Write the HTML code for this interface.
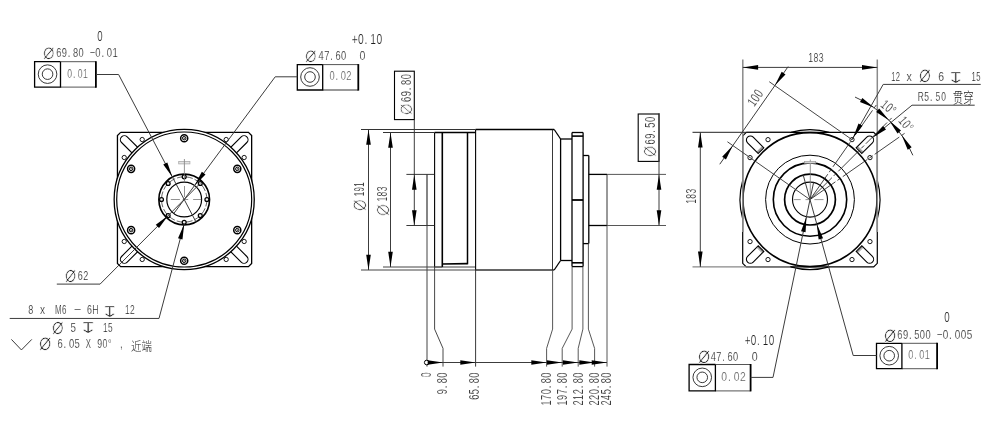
<!DOCTYPE html>
<html lang="zh"><head><meta charset="utf-8"><title>drawing</title>
<style>
html,body{margin:0;padding:0;background:#fff;}
body{width:985px;height:434px;overflow:hidden;}
svg{display:block;will-change:transform;}
svg text{font-family:"Liberation Sans","Noto Sans CJK SC",sans-serif;}
</style></head><body>
<svg width="985" height="434" viewBox="0 0 985 434">
<rect width="985" height="434" fill="#fff"/>
<polyline points="120.65,132.40 248.45,132.40 251.65,135.60 251.65,263.40 248.45,266.60 120.65,266.60 117.45,263.40 117.45,135.60 120.65,132.40" fill="none" stroke="#000" stroke-width="1.3" stroke-linejoin="miter"/>
<path d="M229.45,159.90 L246.85,142.51 A4.0,4.0 0 0 0 241.19,136.85 L223.80,154.25" fill="none" stroke="#000" stroke-width="1.1" />
<circle cx="244.16" cy="157.51" r="2.15" fill="none" stroke="#000" stroke-width="0.9" />
<circle cx="226.19" cy="139.54" r="2.15" fill="none" stroke="#000" stroke-width="0.9" />
<path d="M144.60,154.25 L127.21,136.85 A4.0,4.0 0 0 0 121.55,142.51 L138.95,159.90" fill="none" stroke="#000" stroke-width="1.1" />
<circle cx="142.21" cy="139.54" r="2.15" fill="none" stroke="#000" stroke-width="0.9" />
<circle cx="124.24" cy="157.51" r="2.15" fill="none" stroke="#000" stroke-width="0.9" />
<path d="M138.95,239.10 L121.55,256.49 A4.0,4.0 0 0 0 127.21,262.15 L144.60,244.75" fill="none" stroke="#000" stroke-width="1.1" />
<circle cx="124.24" cy="241.49" r="2.15" fill="none" stroke="#000" stroke-width="0.9" />
<circle cx="142.21" cy="259.46" r="2.15" fill="none" stroke="#000" stroke-width="0.9" />
<path d="M223.80,244.75 L241.19,262.15 A4.0,4.0 0 0 0 246.85,256.49 L229.45,239.10" fill="none" stroke="#000" stroke-width="1.1" />
<circle cx="226.19" cy="259.46" r="2.15" fill="none" stroke="#000" stroke-width="0.9" />
<circle cx="244.16" cy="241.49" r="2.15" fill="none" stroke="#000" stroke-width="0.9" />
<circle cx="184.20" cy="199.50" r="70.05" fill="#fff" stroke="#000" stroke-width="1.3" />
<circle cx="184.20" cy="199.50" r="67.50" fill="none" stroke="#000" stroke-width="1.2" />
<circle cx="184.20" cy="138.20" r="3.55" fill="none" stroke="#000" stroke-width="1.5" />
<circle cx="184.20" cy="138.20" r="1.75" fill="none" stroke="#000" stroke-width="1.0" />
<circle cx="184.20" cy="138.20" r="0.40" fill="#000" stroke="#000" stroke-width="0.5" />
<circle cx="131.11" cy="168.85" r="3.55" fill="none" stroke="#000" stroke-width="1.5" />
<circle cx="131.11" cy="168.85" r="1.75" fill="none" stroke="#000" stroke-width="1.0" />
<circle cx="131.11" cy="168.85" r="0.40" fill="#000" stroke="#000" stroke-width="0.5" />
<circle cx="131.11" cy="230.15" r="3.55" fill="none" stroke="#000" stroke-width="1.5" />
<circle cx="131.11" cy="230.15" r="1.75" fill="none" stroke="#000" stroke-width="1.0" />
<circle cx="131.11" cy="230.15" r="0.40" fill="#000" stroke="#000" stroke-width="0.5" />
<circle cx="184.20" cy="260.80" r="3.55" fill="none" stroke="#000" stroke-width="1.5" />
<circle cx="184.20" cy="260.80" r="1.75" fill="none" stroke="#000" stroke-width="1.0" />
<circle cx="184.20" cy="260.80" r="0.40" fill="#000" stroke="#000" stroke-width="0.5" />
<circle cx="237.29" cy="230.15" r="3.55" fill="none" stroke="#000" stroke-width="1.5" />
<circle cx="237.29" cy="230.15" r="1.75" fill="none" stroke="#000" stroke-width="1.0" />
<circle cx="237.29" cy="230.15" r="0.40" fill="#000" stroke="#000" stroke-width="0.5" />
<circle cx="237.29" cy="168.85" r="3.55" fill="none" stroke="#000" stroke-width="1.5" />
<circle cx="237.29" cy="168.85" r="1.75" fill="none" stroke="#000" stroke-width="1.0" />
<circle cx="237.29" cy="168.85" r="0.40" fill="#000" stroke="#000" stroke-width="0.5" />
<circle cx="184.20" cy="199.50" r="25.35" fill="none" stroke="#000" stroke-width="1.6" />
<circle cx="184.20" cy="199.50" r="22.70" fill="none" stroke="#222" stroke-width="0.7" stroke-dasharray="7 2"/>
<circle cx="184.20" cy="199.50" r="17.40" fill="none" stroke="#000" stroke-width="1.2" />
<circle cx="184.20" cy="176.80" r="1.95" fill="#eee" stroke="#000" stroke-width="1.25" />
<circle cx="168.15" cy="183.45" r="1.95" fill="#eee" stroke="#000" stroke-width="1.25" />
<circle cx="161.50" cy="199.50" r="1.95" fill="#eee" stroke="#000" stroke-width="1.25" />
<circle cx="168.15" cy="215.55" r="1.95" fill="#eee" stroke="#000" stroke-width="1.25" />
<circle cx="184.20" cy="222.20" r="1.95" fill="#eee" stroke="#000" stroke-width="1.25" />
<circle cx="200.25" cy="215.55" r="1.95" fill="#eee" stroke="#000" stroke-width="1.25" />
<circle cx="206.90" cy="199.50" r="1.95" fill="#eee" stroke="#000" stroke-width="1.25" />
<circle cx="200.25" cy="183.45" r="1.95" fill="#eee" stroke="#000" stroke-width="1.25" />
<line x1="170.80" y1="199.50" x2="179.90" y2="199.50" stroke="#777" stroke-width="0.8" />
<line x1="193.10" y1="199.50" x2="201.20" y2="199.50" stroke="#777" stroke-width="0.8" />
<line x1="182.70" y1="199.50" x2="188.20" y2="199.50" stroke="#777" stroke-width="0.8" />
<line x1="184.50" y1="186.00" x2="184.50" y2="197.00" stroke="#777" stroke-width="0.8" />
<line x1="184.50" y1="174.50" x2="184.50" y2="181.50" stroke="#777" stroke-width="0.8" />
<rect x="178.70" y="161.4" width="11.2" height="2.5" fill="#e4e4e4" stroke="#aaa" stroke-width="0.8"/>
<line x1="184.40" y1="159.00" x2="184.40" y2="174.00" stroke="#888" stroke-width="0.9" />
<line x1="60.50" y1="61.70" x2="95.90" y2="61.70" stroke="#555" stroke-width="1.0" />
<line x1="60.50" y1="87.20" x2="95.90" y2="87.20" stroke="#777" stroke-width="1.3" />
<line x1="95.90" y1="61.20" x2="95.90" y2="87.80" stroke="#000" stroke-width="1.8" />
<polyline points="60.50,61.70 34.60,61.70 34.60,87.20 60.50,87.20 60.50,61.70" fill="none" stroke="#000" stroke-width="1.3" />
<circle cx="47.55" cy="74.15" r="9.30" fill="none" stroke="#222" stroke-width="0.9" />
<circle cx="47.55" cy="74.15" r="5.30" fill="none" stroke="#222" stroke-width="0.9" />
<text transform="translate(67.60 77.50) scale(0.655 1)" x="-0.51 8.15 15.44 23.41" font-size="13.18" fill="#555" stroke="#fff" stroke-width="0.22">0.01</text>
<text transform="translate(43.30 59.00) scale(0.8368 1)" x="-0.83" y="-0.40" font-size="22.96" fill="#111" stroke="#fff" stroke-width="0.75" font-family='"DejaVu Sans", "Liberation Sans", sans-serif'>⌀</text>
<text transform="translate(56.50 56.50) scale(0.736 1)" x="-0.49 7.14 15.33 22.39 30.02" font-size="12.61" fill="#1c1c1c" stroke="#fff" stroke-width="0.22">69.80</text>
<text transform="translate(90.00 56.70) scale(0.717 1)" x="-0.51 7.46 16.00 23.41 31.39" font-size="13.18" fill="#1c1c1c" stroke="#fff" stroke-width="0.22">−0.01</text>
<text transform="translate(97.60 40.70) scale(0.700 1)" x="-0.54" font-size="13.75" fill="#1c1c1c" stroke="#fff" stroke-width="0.22">0</text>
<polyline points="96.10,74.50 118.60,74.50" fill="none" stroke="#3c3c3c" stroke-width="1.0" />
<line x1="118.60" y1="74.50" x2="196.00" y2="221.99" stroke="#3c3c3c" stroke-width="1.0" />
<polygon points="172.40,177.01 163.25,164.53 167.32,162.39" fill="#000"/>
<line x1="322.70" y1="64.60" x2="358.30" y2="64.60" stroke="#555" stroke-width="1.0" />
<line x1="322.70" y1="90.00" x2="358.30" y2="90.00" stroke="#777" stroke-width="1.3" />
<line x1="358.30" y1="64.10" x2="358.30" y2="90.60" stroke="#000" stroke-width="1.8" />
<polyline points="322.70,64.60 297.30,64.60 297.30,90.00 322.70,90.00 322.70,64.60" fill="none" stroke="#000" stroke-width="1.3" />
<circle cx="310.00" cy="77.00" r="9.30" fill="none" stroke="#222" stroke-width="0.9" />
<circle cx="310.00" cy="77.00" r="5.30" fill="none" stroke="#222" stroke-width="0.9" />
<text transform="translate(329.80 80.30) scale(0.708 1)" x="-0.51 8.04 15.44 23.41" font-size="13.18" fill="#555" stroke="#fff" stroke-width="0.22">0.02</text>
<text transform="translate(305.70 62.10) scale(0.8368 1)" x="-0.83" y="-0.40" font-size="22.96" fill="#111" stroke="#fff" stroke-width="0.75" font-family='"DejaVu Sans", "Liberation Sans", sans-serif'>⌀</text>
<text transform="translate(318.90 59.50) scale(0.712 1)" x="-0.51 7.38 15.85 23.16 31.04" font-size="13.04" fill="#1c1c1c" stroke="#fff" stroke-width="0.22">47.60</text>
<text transform="translate(352.10 43.80) scale(0.748 1)" x="-0.54 7.79 16.59 24.43 32.75" font-size="13.75" fill="#1c1c1c" stroke="#fff" stroke-width="0.22">+0.10</text>
<text transform="translate(360.00 59.50) scale(0.801 1)" x="-0.52" font-size="13.32" fill="#1c1c1c" stroke="#fff" stroke-width="0.22">0</text>
<polyline points="297.30,76.80 275.20,76.80" fill="none" stroke="#3c3c3c" stroke-width="1.0" />
<line x1="275.20" y1="76.80" x2="173.83" y2="213.48" stroke="#3c3c3c" stroke-width="1.0" />
<polygon points="194.57,185.52 201.83,171.86 205.53,174.61" fill="#000"/>
<text transform="translate(65.20 282.30) scale(0.7724 1)" x="-0.86" y="-0.42" font-size="23.91" fill="#111" stroke="#fff" stroke-width="0.75" font-family='"DejaVu Sans", "Liberation Sans", sans-serif'>⌀</text>
<text transform="translate(78.10 279.50) scale(0.686 1)" x="-0.51 7.46" font-size="13.18" fill="#1c1c1c" stroke="#fff" stroke-width="0.22">62</text>
<polyline points="56.80,284.10 100.10,284.10" fill="none" stroke="#3c3c3c" stroke-width="1.0" />
<line x1="100.10" y1="284.10" x2="200.20" y2="183.40" stroke="#3c3c3c" stroke-width="1.0" />
<polygon points="168.20,215.60 159.04,228.07 155.78,224.83" fill="#000"/>
<text transform="translate(28.51 314.40) scale(0.709 1)" x="-0.50" font-size="12.75" fill="#1c1c1c" stroke="#fff" stroke-width="0.22">8</text>
<text transform="translate(40.08 314.40) scale(0.794 1)" x="-0.14" font-size="12.75" fill="#1c1c1c" stroke="#fff" stroke-width="0.22">x</text>
<text transform="translate(56.15 314.40) scale(0.626 1)" x="-1.65 9.37" font-size="12.75" fill="#1c1c1c" stroke="#fff" stroke-width="0.22">M6</text>
<text transform="translate(74.29 314.40) scale(1.020 1)" x="-0.50" font-size="12.75" fill="#1c1c1c" stroke="#fff" stroke-width="0.22">−</text>
<text transform="translate(87.25 314.40) scale(0.692 1)" x="-0.24 7.06" font-size="12.75" fill="#1c1c1c" stroke="#fff" stroke-width="0.22">6H</text>
<text transform="translate(105.04 317.46) scale(1.5553 1)" x="-3.10" y="-0.05" font-size="15.10" fill="#1c1c1c" stroke="#fff" stroke-width="0.45" font-family='"DejaVu Sans", "Liberation Sans", sans-serif'>↧</text>
<text transform="translate(125.26 314.40) scale(0.663 1)" x="-0.50 7.22" font-size="12.75" fill="#1c1c1c" stroke="#fff" stroke-width="0.22">12</text>
<polyline points="9.70,318.45 159.00,318.45" fill="none" stroke="#3c3c3c" stroke-width="1.0" />
<line x1="159.00" y1="318.45" x2="184.20" y2="224.00" stroke="#3c3c3c" stroke-width="1.0" />
<polygon points="184.20,224.00 182.48,239.38 178.03,238.19" fill="#000"/>
<text transform="translate(52.35 334.05) scale(0.8116 1)" x="-0.87" y="-0.42" font-size="24.07" fill="#111" stroke="#fff" stroke-width="0.75" font-family='"DejaVu Sans", "Liberation Sans", sans-serif'>⌀</text>
<text transform="translate(70.84 331.70) scale(0.765 1)" x="-0.50" font-size="12.75" fill="#1c1c1c" stroke="#fff" stroke-width="0.22">5</text>
<text transform="translate(82.93 333.36) scale(1.6090 1)" x="-3.10" y="-0.05" font-size="15.10" fill="#1c1c1c" stroke="#fff" stroke-width="0.45" font-family='"DejaVu Sans", "Liberation Sans", sans-serif'>↧</text>
<text transform="translate(103.32 331.70) scale(0.651 1)" x="-0.50 7.22" font-size="12.75" fill="#1c1c1c" stroke="#fff" stroke-width="0.22">15</text>
<polyline points="11.40,339.40 21.42,349.94 31.79,339.40" fill="none" stroke="#222" stroke-width="0.9" />
<text transform="translate(39.39 350.63) scale(0.8165 1)" x="-0.89" y="-0.43" font-size="24.72" fill="#111" stroke="#fff" stroke-width="0.75" font-family='"DejaVu Sans", "Liberation Sans", sans-serif'>⌀</text>
<text transform="translate(57.88 347.70) scale(0.739 1)" x="-0.50 7.77 14.93 22.65" font-size="12.75" fill="#1c1c1c" stroke="#fff" stroke-width="0.22">6.05</text>
<text transform="translate(85.87 347.70) scale(0.608 1)" x="-0.29" font-size="12.75" fill="#1c1c1c" stroke="#fff" stroke-width="0.22">X</text>
<text transform="translate(97.62 347.70) scale(0.682 1)" x="-0.50 7.22 15.11" font-size="12.75" fill="#1c1c1c" stroke="#fff" stroke-width="0.22">90°</text>
<text transform="translate(120.01 348.30) scale(0.771 1)" x="0.02" font-size="12.75" fill="#1c1c1c" stroke="#fff" stroke-width="0.22">,</text>
<text transform="translate(130.96 350.63) scale(0.86 1)" font-size="12.2" font-weight="300" fill="#222" font-family='"Liberation Sans", "Noto Sans CJK SC", sans-serif'>近端</text>
<line x1="427.00" y1="174.40" x2="427.00" y2="225.50" stroke="#333" stroke-width="1.2" />
<line x1="434.60" y1="132.50" x2="434.60" y2="267.00" stroke="#000" stroke-width="1.1" />
<line x1="434.60" y1="132.50" x2="475.60" y2="132.50" stroke="#000" stroke-width="1.3" />
<line x1="434.60" y1="267.00" x2="475.60" y2="267.00" stroke="#444" stroke-width="1.2" />
<line x1="442.30" y1="132.50" x2="442.30" y2="267.00" stroke="#000" stroke-width="1.6" />
<line x1="467.50" y1="132.50" x2="467.50" y2="264.30" stroke="#000" stroke-width="1.5" />
<line x1="442.30" y1="264.00" x2="467.50" y2="263.60" stroke="#000" stroke-width="1.7" />
<line x1="475.60" y1="129.50" x2="475.60" y2="270.00" stroke="#000" stroke-width="1.1" />
<line x1="475.60" y1="129.50" x2="554.20" y2="129.50" stroke="#000" stroke-width="1.3" />
<line x1="475.60" y1="270.00" x2="554.20" y2="270.00" stroke="#333" stroke-width="1.3" />
<line x1="552.50" y1="129.50" x2="552.50" y2="270.00" stroke="#222" stroke-width="0.9" />
<line x1="554.20" y1="129.50" x2="560.60" y2="139.00" stroke="#000" stroke-width="1.3" />
<line x1="554.20" y1="270.00" x2="560.60" y2="260.50" stroke="#000" stroke-width="1.3" />
<line x1="560.60" y1="139.00" x2="560.60" y2="260.50" stroke="#000" stroke-width="1.3" />
<line x1="560.60" y1="139.00" x2="572.00" y2="139.00" stroke="#000" stroke-width="1.3" />
<line x1="560.60" y1="260.50" x2="572.00" y2="260.50" stroke="#000" stroke-width="1.3" />
<line x1="572.00" y1="132.50" x2="572.00" y2="266.60" stroke="#000" stroke-width="1.3" />
<line x1="583.10" y1="132.50" x2="583.10" y2="266.60" stroke="#000" stroke-width="1.3" />
<line x1="572.00" y1="132.50" x2="583.10" y2="132.50" stroke="#000" stroke-width="1.3" />
<line x1="572.00" y1="266.60" x2="583.10" y2="266.60" stroke="#000" stroke-width="1.3" />
<line x1="572.00" y1="136.10" x2="583.10" y2="136.10" stroke="#000" stroke-width="1.6" />
<line x1="572.00" y1="262.80" x2="583.10" y2="262.80" stroke="#000" stroke-width="1.6" />
<line x1="572.00" y1="200.00" x2="583.10" y2="200.00" stroke="#000" stroke-width="1.8" />
<line x1="583.10" y1="155.50" x2="588.80" y2="155.50" stroke="#000" stroke-width="1.3" />
<line x1="583.10" y1="243.60" x2="588.80" y2="243.60" stroke="#000" stroke-width="1.3" />
<line x1="588.80" y1="155.50" x2="588.80" y2="243.60" stroke="#000" stroke-width="1.3" />
<line x1="588.80" y1="174.40" x2="607.00" y2="174.40" stroke="#000" stroke-width="1.3" />
<line x1="588.80" y1="225.50" x2="607.00" y2="225.50" stroke="#000" stroke-width="1.3" />
<line x1="607.00" y1="174.40" x2="607.00" y2="225.50" stroke="#333" stroke-width="1.0" />
<line x1="607.00" y1="174.40" x2="666.00" y2="174.40" stroke="#444" stroke-width="0.9" />
<line x1="607.00" y1="225.50" x2="666.00" y2="225.50" stroke="#444" stroke-width="0.9" />
<rect x="638.2" y="114.0" width="20.8" height="47.4" fill="none" stroke="#000" stroke-width="1.1"/>
<line x1="659.00" y1="113.00" x2="659.00" y2="225.50" stroke="#3c3c3c" stroke-width="1.0" />
<polygon points="659.00,174.40 661.30,189.70 656.70,189.70" fill="#000"/>
<polygon points="659.00,225.50 656.70,210.20 661.30,210.20" fill="#000"/>
<rect x="394.5" y="71.2" width="19.8" height="48.4" fill="none" stroke="#000" stroke-width="1.1"/>
<line x1="414.30" y1="119.60" x2="414.30" y2="225.50" stroke="#3c3c3c" stroke-width="1.0" />
<polygon points="414.30,174.40 416.60,189.70 412.00,189.70" fill="#000"/>
<polygon points="414.30,225.50 412.00,210.20 416.60,210.20" fill="#000"/>
<line x1="406.40" y1="174.40" x2="434.60" y2="174.40" stroke="#222" stroke-width="0.9" />
<line x1="406.40" y1="225.50" x2="434.60" y2="225.50" stroke="#222" stroke-width="0.9" />
<line x1="361.00" y1="129.50" x2="475.60" y2="129.50" stroke="#333" stroke-width="1.0" />
<line x1="361.00" y1="270.00" x2="475.60" y2="270.00" stroke="#444" stroke-width="1.0" />
<line x1="368.50" y1="129.50" x2="368.50" y2="270.00" stroke="#3c3c3c" stroke-width="1.0" />
<polygon points="368.50,129.50 370.80,144.80 366.20,144.80" fill="#000"/>
<polygon points="368.50,270.00 366.20,254.70 370.80,254.70" fill="#000"/>
<text transform="translate(364.30 196.00) rotate(-90) scale(0.575 1)" x="-0.54 7.87 16.27" font-size="13.90" fill="#1c1c1c" stroke="#fff" stroke-width="0.22">191</text>
<line x1="383.00" y1="132.50" x2="434.60" y2="132.50" stroke="#333" stroke-width="1.0" />
<line x1="383.00" y1="267.00" x2="442.30" y2="267.00" stroke="#444" stroke-width="1.0" />
<line x1="390.50" y1="132.50" x2="390.50" y2="267.00" stroke="#3c3c3c" stroke-width="1.0" />
<polygon points="390.50,132.50 392.80,147.80 388.20,147.80" fill="#000"/>
<polygon points="390.50,267.00 388.20,251.70 392.80,251.70" fill="#000"/>
<text transform="translate(386.60 201.20) rotate(-90) scale(0.620 1)" x="-0.54 7.79 16.11" font-size="13.75" fill="#1c1c1c" stroke="#fff" stroke-width="0.22">183</text>
<text transform="translate(366.80 209.90) rotate(-90) scale(0.7734 1)" x="-0.90" y="-0.44" font-size="24.85" fill="#1c1c1c" stroke="#fff" stroke-width="0.9" font-family='"DejaVu Sans", "Liberation Sans", sans-serif'>⌀</text>
<text transform="translate(389.20 215.30) rotate(-90) scale(0.8275 1)" x="-0.86" y="-0.42" font-size="23.91" fill="#1c1c1c" stroke="#fff" stroke-width="0.9" font-family='"DejaVu Sans", "Liberation Sans", sans-serif'>⌀</text>
<line x1="427.00" y1="225.50" x2="427.00" y2="366.60" stroke="#444" stroke-width="1.0" />
<polyline points="434.60,267.00 434.60,329.10 443.00,348.40 443.00,366.60" fill="none" stroke="#333" stroke-width="0.9" />
<line x1="475.60" y1="270.00" x2="475.60" y2="366.60" stroke="#222" stroke-width="0.9" />
<polyline points="552.60,270.00 552.60,329.10 546.60,348.40 546.60,366.60" fill="none" stroke="#444" stroke-width="0.9" />
<polyline points="572.10,266.60 572.10,329.10 562.20,348.40 562.20,366.60" fill="none" stroke="#444" stroke-width="0.9" />
<polyline points="582.90,266.60 582.90,329.10 578.20,348.40 578.20,366.60" fill="none" stroke="#444" stroke-width="0.9" />
<polyline points="588.40,243.60 588.40,329.10 594.60,348.40 594.60,366.60" fill="none" stroke="#444" stroke-width="0.9" />
<line x1="607.00" y1="225.50" x2="607.00" y2="366.60" stroke="#444" stroke-width="0.9" />
<line x1="427.00" y1="362.50" x2="607.00" y2="362.50" stroke="#3c3c3c" stroke-width="1.0" />
<circle cx="426.70" cy="362.50" r="2.30" fill="#fff" stroke="#000" stroke-width="1.0" />
<polygon points="443.00,362.50 427.70,364.80 427.70,360.20" fill="#000"/>
<polygon points="475.60,362.50 460.30,364.80 460.30,360.20" fill="#000"/>
<polygon points="546.60,362.50 531.30,364.80 531.30,360.20" fill="#000"/>
<polygon points="562.20,362.50 546.90,364.80 546.90,360.20" fill="#000"/>
<polygon points="578.20,362.50 562.90,364.80 562.90,360.20" fill="#000"/>
<polygon points="594.60,362.50 579.30,364.80 579.30,360.20" fill="#000"/>
<polygon points="607.00,362.50 591.70,364.80 591.70,360.20" fill="#000"/>
<text transform="translate(430.90 377.00) rotate(-90) scale(0.599 1)" x="-0.56" font-size="14.33" fill="#1c1c1c" stroke="#fff" stroke-width="0.22">0</text>
<text transform="translate(447.20 393.90) rotate(-90) scale(0.615 1)" x="-0.58 9.12 17.45 26.46" font-size="14.90" fill="#1c1c1c" stroke="#fff" stroke-width="0.22">9.80</text>
<text transform="translate(479.20 399.50) rotate(-90) scale(0.616 1)" x="-0.58 8.43 18.13 26.46 35.48" font-size="14.90" fill="#1c1c1c" stroke="#fff" stroke-width="0.22">65.80</text>
<text transform="translate(550.60 405.10) rotate(-90) scale(0.605 1)" x="-0.59 8.60 17.79 27.67 36.16 45.35" font-size="15.19" fill="#1c1c1c" stroke="#fff" stroke-width="0.22">170.80</text>
<text transform="translate(566.50 405.10) rotate(-90) scale(0.605 1)" x="-0.59 8.60 17.79 27.67 36.16 45.35" font-size="15.19" fill="#1c1c1c" stroke="#fff" stroke-width="0.22">197.80</text>
<text transform="translate(582.80 405.10) rotate(-90) scale(0.605 1)" x="-0.59 8.60 17.79 27.67 36.16 45.35" font-size="15.19" fill="#1c1c1c" stroke="#fff" stroke-width="0.22">212.80</text>
<text transform="translate(598.50 405.10) rotate(-90) scale(0.605 1)" x="-0.59 8.60 17.79 27.67 36.16 45.35" font-size="15.19" fill="#1c1c1c" stroke="#fff" stroke-width="0.22">220.80</text>
<text transform="translate(611.20 405.10) rotate(-90) scale(0.635 1)" x="-0.56 8.19 16.95 26.36 34.46 43.21" font-size="14.47" fill="#1c1c1c" stroke="#fff" stroke-width="0.22">245.80</text>
<polyline points="746.30,132.30 873.70,132.30 877.30,135.90 877.30,263.30 873.70,266.90 746.30,266.90 742.70,263.30 742.70,135.90 746.30,132.30" fill="none" stroke="#000" stroke-width="1.2" stroke-linejoin="miter"/>
<path d="M861.83,153.43 L872.44,142.82 A4.0,4.0 0 0 0 866.78,137.16 L856.17,147.77 Z" fill="none" stroke="#000" stroke-width="1.1" />
<line x1="862.54" y1="152.72" x2="856.88" y2="147.06" stroke="#333" stroke-width="0.6" />
<line x1="863.25" y1="152.01" x2="857.59" y2="146.35" stroke="#333" stroke-width="0.6" />
<circle cx="869.96" cy="157.61" r="2.15" fill="none" stroke="#000" stroke-width="0.9" />
<circle cx="851.99" cy="139.64" r="2.15" fill="none" stroke="#000" stroke-width="0.9" />
<path d="M763.83,147.77 L753.22,137.16 A4.0,4.0 0 0 0 747.56,142.82 L758.17,153.43 Z" fill="none" stroke="#000" stroke-width="1.1" />
<line x1="763.12" y1="147.06" x2="757.46" y2="152.72" stroke="#333" stroke-width="0.6" />
<line x1="762.41" y1="146.35" x2="756.75" y2="152.01" stroke="#333" stroke-width="0.6" />
<circle cx="768.01" cy="139.64" r="2.15" fill="none" stroke="#000" stroke-width="0.9" />
<circle cx="750.04" cy="157.61" r="2.15" fill="none" stroke="#000" stroke-width="0.9" />
<path d="M758.17,245.77 L747.56,256.38 A4.0,4.0 0 0 0 753.22,262.04 L763.83,251.43 Z" fill="none" stroke="#000" stroke-width="1.1" />
<line x1="757.46" y1="246.48" x2="763.12" y2="252.14" stroke="#333" stroke-width="0.6" />
<line x1="756.75" y1="247.19" x2="762.41" y2="252.85" stroke="#333" stroke-width="0.6" />
<circle cx="750.04" cy="241.59" r="2.15" fill="none" stroke="#000" stroke-width="0.9" />
<circle cx="768.01" cy="259.56" r="2.15" fill="none" stroke="#000" stroke-width="0.9" />
<path d="M856.17,251.43 L866.78,262.04 A4.0,4.0 0 0 0 872.44,256.38 L861.83,245.77 Z" fill="none" stroke="#000" stroke-width="1.1" />
<line x1="856.88" y1="252.14" x2="862.54" y2="246.48" stroke="#333" stroke-width="0.6" />
<line x1="857.59" y1="252.85" x2="863.25" y2="247.19" stroke="#333" stroke-width="0.6" />
<circle cx="851.99" cy="259.56" r="2.15" fill="none" stroke="#000" stroke-width="0.9" />
<circle cx="869.96" cy="241.59" r="2.15" fill="none" stroke="#000" stroke-width="0.9" />
<path d="M877.29,218.89 A70,70 0 0 0 877.29,180.31" fill="none" stroke="#000" stroke-width="1.2" />
<path d="M829.29,132.31 A70,70 0 0 0 790.71,132.31" fill="none" stroke="#000" stroke-width="1.2" />
<path d="M742.71,180.31 A70,70 0 0 0 742.71,218.89" fill="none" stroke="#000" stroke-width="1.2" />
<path d="M790.71,266.89 A70,70 0 0 0 829.29,266.89" fill="none" stroke="#000" stroke-width="1.2" />
<circle cx="810.00" cy="199.60" r="67.00" fill="none" stroke="#000" stroke-width="1.6" />
<circle cx="810.00" cy="199.60" r="44.40" fill="none" stroke="#000" stroke-width="1.0" />
<circle cx="810.00" cy="199.60" r="36.70" fill="none" stroke="#000" stroke-width="1.6" />
<circle cx="810.00" cy="199.60" r="25.40" fill="none" stroke="#000" stroke-width="1.7" />
<circle cx="810.00" cy="199.60" r="17.50" fill="none" stroke="#000" stroke-width="1.1" />
<line x1="793.60" y1="199.60" x2="800.70" y2="199.60" stroke="#777" stroke-width="0.8" />
<line x1="814.40" y1="199.60" x2="823.50" y2="199.60" stroke="#777" stroke-width="0.8" />
<line x1="805.50" y1="199.60" x2="810.00" y2="199.60" stroke="#777" stroke-width="0.8" />
<line x1="810.30" y1="159.60" x2="810.30" y2="197.60" stroke="#777" stroke-width="0.8" />
<rect x="804.50" y="161.6" width="11.2" height="1.6" fill="#ddd" stroke="#999" stroke-width="0.7"/>
<line x1="742.80" y1="59.50" x2="742.80" y2="232.00" stroke="#8a8a8a" stroke-width="1.5" />
<line x1="877.30" y1="59.50" x2="877.30" y2="232.00" stroke="#8a8a8a" stroke-width="1.5" />
<line x1="742.80" y1="67.40" x2="877.30" y2="67.40" stroke="#3c3c3c" stroke-width="1.0" />
<polygon points="742.80,67.40 758.10,65.10 758.10,69.70" fill="#000"/>
<polygon points="877.30,67.40 862.00,69.70 862.00,65.10" fill="#000"/>
<text transform="translate(808.50 62.20) scale(0.665 1)" x="-0.51 7.46 15.44" font-size="13.18" fill="#1c1c1c" stroke="#fff" stroke-width="0.22">183</text>
<line x1="692.50" y1="132.30" x2="790.00" y2="132.30" stroke="#222" stroke-width="1.0" />
<line x1="692.50" y1="266.90" x2="790.00" y2="266.90" stroke="#888" stroke-width="1.3" />
<line x1="700.30" y1="132.30" x2="700.30" y2="266.90" stroke="#3c3c3c" stroke-width="1.0" />
<polygon points="700.30,132.30 702.60,147.60 698.00,147.60" fill="#000"/>
<polygon points="700.30,266.90 698.00,251.60 702.60,251.60" fill="#000"/>
<text transform="translate(696.00 203.50) rotate(-90) scale(0.620 1)" x="-0.54 7.79 16.11" font-size="13.75" fill="#1c1c1c" stroke="#fff" stroke-width="0.22">183</text>
<line x1="810.00" y1="199.60" x2="727.43" y2="141.78" stroke="#3c3c3c" stroke-width="0.95" />
<line x1="851.99" y1="139.64" x2="769.25" y2="81.71" stroke="#3c3c3c" stroke-width="0.95" />
<line x1="719.76" y1="164.25" x2="788.13" y2="66.60" stroke="#3c3c3c" stroke-width="1.0" />
<polygon points="732.84,145.57 725.94,159.42 722.18,156.78" fill="#000"/>
<polygon points="774.82,85.61 781.71,71.75 785.48,74.39" fill="#000"/>
<text transform="translate(754.50 107.02) rotate(-55) scale(0.681 1)" x="-0.54 7.79 16.11" font-size="13.75" fill="#1c1c1c" stroke="#fff" stroke-width="0.22">100</text>
<line x1="810.57" y1="198.78" x2="877.40" y2="103.35" stroke="#222" stroke-width="0.85" stroke-dasharray="30 2.5 4 2.5"/>
<line x1="810.71" y1="198.89" x2="893.09" y2="116.51" stroke="#222" stroke-width="0.85" stroke-dasharray="30 2.5 4 2.5"/>
<line x1="810.82" y1="199.03" x2="906.25" y2="132.20" stroke="#222" stroke-width="0.85" stroke-dasharray="30 2.5 4 2.5"/>
<path d="M855.02,97.05 A112.0,112.0 0 0 1 912.87,155.30" fill="none" stroke="#3c3c3c" stroke-width="1.0" />
<polygon points="874.24,107.85 859.96,101.90 862.34,97.96" fill="#000"/>
<polygon points="889.20,120.40 901.00,130.40 897.54,133.43" fill="#000"/>
<polygon points="889.20,120.40 876.17,112.06 879.20,108.60" fill="#000"/>
<polygon points="901.75,135.36 911.64,147.26 907.70,149.64" fill="#000"/>
<text transform="translate(880.13 106.12) rotate(40) scale(0.695 1)" x="-0.53 7.62 15.93" font-size="13.47" fill="#1c1c1c" stroke="#fff" stroke-width="0.22">10°</text>
<text transform="translate(897.92 121.17) rotate(50) scale(0.695 1)" x="-0.53 7.62 15.93" font-size="13.47" fill="#1c1c1c" stroke="#fff" stroke-width="0.22">10°</text>
<text transform="translate(891.51 80.65) scale(0.575 1)" x="-0.51 7.46" font-size="13.18" fill="#1c1c1c" stroke="#fff" stroke-width="0.22">12</text>
<text transform="translate(906.65 80.65) scale(0.812 1)" x="-0.15" font-size="13.18" fill="#1c1c1c" stroke="#fff" stroke-width="0.22">x</text>
<text transform="translate(919.97 82.79) scale(0.7893 1)" x="-0.89" y="-0.43" font-size="24.68" fill="#111" stroke="#fff" stroke-width="0.75" font-family='"DejaVu Sans", "Liberation Sans", sans-serif'>⌀</text>
<text transform="translate(938.63 80.65) scale(0.795 1)" x="-0.51" font-size="13.18" fill="#1c1c1c" stroke="#fff" stroke-width="0.22">6</text>
<text transform="translate(950.99 82.68) scale(1.5633 1)" x="-3.02" y="-0.05" font-size="14.70" fill="#1c1c1c" stroke="#fff" stroke-width="0.45" font-family='"DejaVu Sans", "Liberation Sans", sans-serif'>↧</text>
<text transform="translate(971.89 80.65) scale(0.582 1)" x="-0.51 7.46" font-size="13.18" fill="#1c1c1c" stroke="#fff" stroke-width="0.22">15</text>
<polyline points="980.70,84.40 883.20,84.40" fill="none" stroke="#3c3c3c" stroke-width="1.0" />
<line x1="883.20" y1="84.40" x2="851.99" y2="139.64" stroke="#3c3c3c" stroke-width="1.0" />
<polygon points="852.99,137.94 858.51,123.49 862.52,125.75" fill="#000"/>
<text transform="translate(918.59 100.60) scale(0.630 1)" x="-1.48 8.90 18.29 26.98 36.02" font-size="13.32" fill="#1c1c1c" stroke="#fff" stroke-width="0.22">R5.50</text>
<text transform="translate(952.81 103.15) scale(0.80 1.12)" font-size="13" font-weight="300" fill="#222" font-family='"Liberation Sans", "Noto Sans CJK SC", sans-serif'>贯穿</text>
<polyline points="974.70,105.20 912.00,105.20" fill="none" stroke="#3c3c3c" stroke-width="1.0" />
<line x1="912.00" y1="105.20" x2="872.70" y2="137.45" stroke="#3c3c3c" stroke-width="1.0" />
<polygon points="872.70,137.45 883.07,125.97 885.99,129.52" fill="#000"/>
<line x1="715.40" y1="364.50" x2="750.60" y2="364.50" stroke="#555" stroke-width="1.0" />
<line x1="715.40" y1="390.80" x2="750.60" y2="390.80" stroke="#777" stroke-width="1.3" />
<line x1="750.60" y1="364.00" x2="750.60" y2="391.40" stroke="#000" stroke-width="1.8" />
<polyline points="715.40,364.50 689.10,364.50 689.10,390.80 715.40,390.80 715.40,364.50" fill="none" stroke="#000" stroke-width="1.3" />
<circle cx="702.25" cy="377.35" r="9.30" fill="none" stroke="#222" stroke-width="0.9" />
<circle cx="702.25" cy="377.35" r="5.30" fill="none" stroke="#222" stroke-width="0.9" />
<text transform="translate(721.70 381.40) scale(0.787 1)" x="-0.51 7.91 15.44 23.41" font-size="13.18" fill="#555" stroke="#fff" stroke-width="0.22">0.02</text>
<text transform="translate(698.41 363.62) scale(0.8072 1)" x="-0.89" y="-0.43" font-size="24.74" fill="#111" stroke="#fff" stroke-width="0.75" font-family='"DejaVu Sans", "Liberation Sans", sans-serif'>⌀</text>
<text transform="translate(711.12 361.00) scale(0.699 1)" x="-0.51 7.46 16.03 23.41 31.39" font-size="13.18" fill="#1c1c1c" stroke="#fff" stroke-width="0.22">47.60</text>
<text transform="translate(745.04 344.50) scale(0.723 1)" x="-0.54 7.79 16.63 24.43 32.75" font-size="13.75" fill="#1c1c1c" stroke="#fff" stroke-width="0.22">+0.10</text>
<text transform="translate(752.25 361.00) scale(0.799 1)" x="-0.52" font-size="13.32" fill="#1c1c1c" stroke="#fff" stroke-width="0.22">0</text>
<polyline points="750.60,377.40 773.00,377.40" fill="none" stroke="#3c3c3c" stroke-width="1.0" />
<line x1="773.00" y1="377.40" x2="813.57" y2="182.47" stroke="#3c3c3c" stroke-width="1.0" />
<polygon points="806.43,216.73 805.57,232.18 801.07,231.24" fill="#000"/>
<line x1="901.90" y1="343.30" x2="937.10" y2="343.30" stroke="#555" stroke-width="1.0" />
<line x1="901.90" y1="368.70" x2="937.10" y2="368.70" stroke="#777" stroke-width="1.3" />
<line x1="937.10" y1="342.80" x2="937.10" y2="369.30" stroke="#000" stroke-width="1.8" />
<polyline points="901.90,343.30 876.50,343.30 876.50,368.70 901.90,368.70 901.90,343.30" fill="none" stroke="#000" stroke-width="1.3" />
<circle cx="889.20" cy="355.70" r="9.30" fill="none" stroke="#222" stroke-width="0.9" />
<circle cx="889.20" cy="355.70" r="5.30" fill="none" stroke="#222" stroke-width="0.9" />
<text transform="translate(908.70 359.40) scale(0.688 1)" x="-0.51 8.08 15.44 23.41" font-size="13.18" fill="#555" stroke="#fff" stroke-width="0.22">0.01</text>
<text transform="translate(884.52 342.00) scale(0.8072 1)" x="-0.89" y="-0.43" font-size="24.74" fill="#111" stroke="#fff" stroke-width="0.75" font-family='"DejaVu Sans", "Liberation Sans", sans-serif'>⌀</text>
<text transform="translate(897.67 339.00) scale(0.707 1)" x="-0.51 7.46 16.02 23.41 31.39 39.36" font-size="13.18" fill="#1c1c1c" stroke="#fff" stroke-width="0.22">69.500</text>
<text transform="translate(937.10 339.00) scale(0.753 1)" x="-0.51 7.46 15.94 23.41 31.39 39.36" font-size="13.18" fill="#1c1c1c" stroke="#fff" stroke-width="0.22">−0.005</text>
<text transform="translate(944.73 322.00) scale(0.709 1)" x="-0.54" font-size="13.75" fill="#1c1c1c" stroke="#fff" stroke-width="0.22">0</text>
<polyline points="876.50,355.50 853.20,355.50" fill="none" stroke="#3c3c3c" stroke-width="1.0" />
<line x1="853.20" y1="355.50" x2="803.22" y2="175.12" stroke="#3c3c3c" stroke-width="1.0" />
<polygon points="816.78,224.08 823.08,238.21 818.65,239.44" fill="#000"/>
<text transform="translate(410.50 101.60) rotate(-90) scale(0.668 1)" x="-0.55 7.95 17.05 24.94 33.43" font-size="14.04" fill="#1c1c1c" stroke="#fff" stroke-width="0.22">69.80</text>
<text transform="translate(412.20 114.80) rotate(-90) scale(0.8272 1)" x="-0.82" y="-0.40" font-size="22.78" fill="#1c1c1c" stroke="#fff" stroke-width="0.9" font-family='"DejaVu Sans", "Liberation Sans", sans-serif'>⌀</text>
<text transform="translate(654.80 144.10) rotate(-90) scale(0.654 1)" x="-0.55 8.03 17.24 25.19 33.77" font-size="14.18" fill="#1c1c1c" stroke="#fff" stroke-width="0.22">69.50</text>
<text transform="translate(656.50 156.80) rotate(-90) scale(0.7687 1)" x="-0.85" y="-0.41" font-size="23.53" fill="#1c1c1c" stroke="#fff" stroke-width="0.9" font-family='"DejaVu Sans", "Liberation Sans", sans-serif'>⌀</text>
</svg>
</body></html>
